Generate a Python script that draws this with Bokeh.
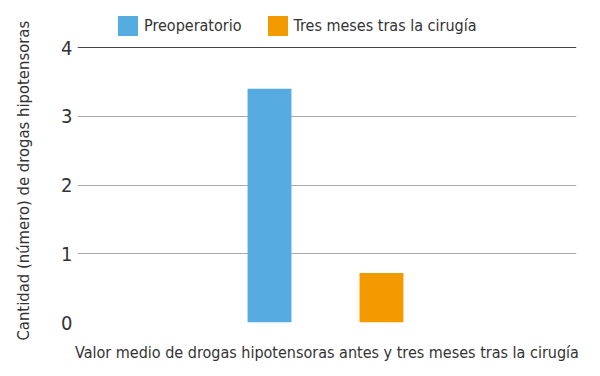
from bokeh.plotting import figure
from bokeh.models import ColumnDataSource, Range1d, FactorRange, Legend, LegendItem, FixedTicker, Span, Title
from bokeh.transform import dodge
from bokeh.embed import file_html
from bokeh.resources import INLINE

categories = ["Valor medio de drogas hipotensoras antes y tres meses tras la cirugía"]
preoperatorio = [3.40]
tres_meses = [0.72]
series_names = ["Preoperatorio", "Tres meses tras la cirugía"]
y_ticks = [0, 1, 2, 3, 4]
y_title = "Cantidad (número) de drogas hipotensoras"

FONT = "DejaVu Sans Condensed"
TEXT = "#333333"
BLUE = "#56ACE0"
ORANGE = "#F39A00"

src = ColumnDataSource(dict(cat=categories, pre=preoperatorio, post=tres_meses))

# frame extended above the top gridline so the legend can sit inside it
p = figure(x_range=FactorRange(*categories), y_range=Range1d(0, 4.611),
           frame_width=499, frame_height=317,
           min_border_left=77, min_border_right=8, min_border_top=5, min_border_bottom=38,
           output_backend="svg", toolbar_location=None)

r1 = p.vbar(x=dodge("cat", -0.1152, range=p.x_range), top="pre", width=0.088, source=src,
            fill_color=BLUE, line_color=None)
r2 = p.vbar(x=dodge("cat", 0.1092, range=p.x_range), top="post", width=0.088, source=src,
            fill_color=ORANGE, line_color=None)

p.outline_line_color = None
p.xgrid.grid_line_color = None
p.ygrid.ticker = FixedTicker(ticks=y_ticks[:-1])
p.ygrid.grid_line_color = "#a8a8a8"
p.ygrid.grid_line_width = 1
p.add_layout(Span(location=y_ticks[-1], dimension="width", line_color="#454545", line_width=1))

p.yaxis.ticker = FixedTicker(ticks=y_ticks)
p.yaxis.axis_line_color = None
p.yaxis.major_tick_line_color = None
p.yaxis.minor_tick_line_color = None
p.yaxis.major_label_standoff = -1
p.yaxis.major_label_text_font = FONT
p.yaxis.major_label_text_font_size = "20px"
p.yaxis.major_label_text_color = TEXT
# spacer between the tick labels and the vertical title
p.yaxis.axis_label = "\u200b"
p.yaxis.axis_label_text_font_size = "1px"
p.yaxis.axis_label_standoff = 21

t = Title(text=y_title, align="left", offset=-18, standoff=0,
          text_font=FONT, text_font_size="16.5px", text_font_style="normal",
          text_color=TEXT)
p.add_layout(t, "left")

p.xaxis.axis_line_color = None
p.xaxis.major_tick_line_color = None
p.xaxis.minor_tick_line_color = None
p.xaxis.major_label_standoff = 14
p.xaxis.major_label_text_font = FONT
p.xaxis.major_label_text_font_size = "16px"
p.xaxis.major_label_text_color = TEXT

legend = Legend(items=[LegendItem(label=series_names[0], renderers=[r1]),
                       LegendItem(label=series_names[1], renderers=[r2])],
                orientation="horizontal", location=(38, 284))
legend.border_line_color = None
legend.background_fill_alpha = 0
legend.padding = 2
legend.margin = 0
legend.spacing = 23
legend.glyph_width = 25
legend.glyph_height = 25
legend.label_standoff = 4
legend.label_text_font = FONT
legend.label_text_font_size = "16px"
legend.label_text_color = TEXT
legend.label_height = 25
p.add_layout(legend, "center")

open("out.html", "w").write(file_html(p, INLINE))
